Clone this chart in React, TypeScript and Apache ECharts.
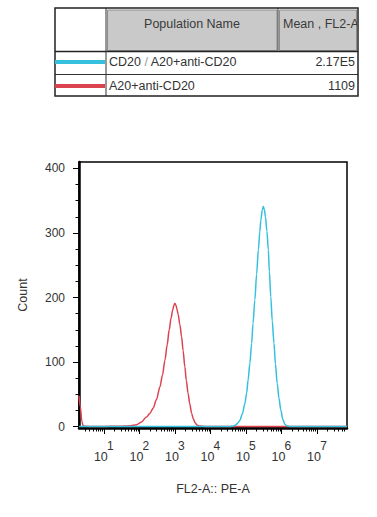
import React, { useEffect, useRef } from 'react';
import * as echarts from 'echarts';

// ---- data (x values are log10 of FL2-A intensity) ----
const redLog = [0.30, 0.34, 0.38, 0.42, 0.6, 1.0, 1.4, 1.6, 1.75, 1.92, 2.05, 2.2, 2.3, 2.39, 2.48, 2.58, 2.65, 2.72, 2.78, 2.84, 2.89, 2.94, 2.97, 3.0, 3.03, 3.06, 3.09, 3.14, 3.19, 3.23, 3.28, 3.32, 3.37, 3.42, 3.47, 3.52, 3.57, 3.62, 3.7, 3.85, 7.845];
const redCount = [48, 30, 8, 1, 0.5, 0.5, 0.7, 1, 1.5, 3, 7, 15, 21, 29, 42, 62, 80, 103, 126, 150, 168, 181, 188, 191, 188, 182, 174, 158, 139, 118, 93, 72, 52, 35, 21, 12, 6, 2.5, 1, 0.5, 0.5];
const cyanLog = [0.30, 4.55, 4.65, 4.72, 4.78, 4.83, 4.9, 4.97, 5.02, 5.06, 5.11, 5.16, 5.2, 5.25, 5.3, 5.35, 5.39, 5.42, 5.46, 5.49, 5.52, 5.55, 5.59, 5.63, 5.66, 5.7, 5.74, 5.79, 5.83, 5.88, 5.93, 5.98, 6.04, 6.1, 6.16, 6.25, 7.845];
const cyanCount = [0.5, 0.5, 1, 3, 6, 10, 20, 36, 52, 72, 98, 129, 160, 196, 236, 274, 302, 320, 336, 341, 336, 325, 303, 274, 240, 201, 164, 129, 97, 67, 44, 26, 11, 3.5, 1.2, 0.5, 0.5];

const xMajorExps = [1, 2, 3, 4, 5, 6, 7];
const xMinorFactors = [2, 3, 4, 5, 6, 7, 8, 9];
const yMajorTicks = [0, 100, 200, 300, 400];
const yMinorTicks = [25, 50, 75, 125, 150, 175, 225, 250, 275, 325, 350, 375];

const tableHeaders = ['Population Name', 'Mean , FL2-A'];
const populations = ['CD20 {g|/} A20+anti-CD20', 'A20+anti-CD20'];
const meanValues = ['2.17E5', '1109'];

const X_MIN = 0.3;
const X_MAX = 7.845;
const CYAN = '#35c0de';
const RED = '#dc4350';
const FONT = "'Liberation Sans', Arial, Helvetica, sans-serif";

const xMinorTicks: number[] = [];
for (let n = 0; n <= 7; n++) {
  for (const k of xMinorFactors) {
    const v = n + Math.log10(k);
    if (v > X_MIN + 0.01 && v < X_MAX - 0.01) xMinorTicks.push(v);
  }
}

export default function App() {
  const ref = useRef<HTMLDivElement>(null);
  useEffect(() => {
    if (!ref.current) return;
    const chart = echarts.init(ref.current, undefined, { renderer: 'svg' });
    const tickStyle = { color: '#000', width: 1 };
    const rowY = [62, 86];
    const graphic: any[] = [
      { type: 'rect', shape: { x: 107.5, y: 10, width: 169.5, height: 40.5 }, style: { fill: '#c9c9c9', stroke: '#8c8c8c', lineWidth: 1 } },
      { type: 'rect', shape: { x: 279.5, y: 10, width: 77, height: 40.5 }, style: { fill: '#c9c9c9', stroke: '#8c8c8c', lineWidth: 1 } },
      { type: 'text', x: 192, y: 24, style: { text: tableHeaders[0], fill: '#3a3a3a', fontSize: 12.5, fontFamily: FONT, textAlign: 'center', textVerticalAlign: 'middle', verticalAlign: 'middle' } },
      { type: 'text', x: 283, y: 24, style: { text: tableHeaders[1], fill: '#3a3a3a', fontSize: 12.5, fontFamily: FONT, textAlign: 'left', textVerticalAlign: 'middle', verticalAlign: 'middle' } },
      { type: 'rect', shape: { x: 357, y: 9, width: 20, height: 42 }, style: { fill: '#ffffff' } },
      { type: 'line', shape: { x1: 55, y1: 51.5, x2: 358, y2: 51.5 }, style: { stroke: '#222', lineWidth: 1.5 } },
      { type: 'line', shape: { x1: 55, y1: 74.5, x2: 358, y2: 74.5 }, style: { stroke: '#333', lineWidth: 1 } },
      { type: 'line', shape: { x1: 106, y1: 8, x2: 106, y2: 96 }, style: { stroke: '#333', lineWidth: 1 } },
      { type: 'line', shape: { x1: 278, y1: 8, x2: 278, y2: 51.5 }, style: { stroke: '#333', lineWidth: 1 } },
      { type: 'rect', shape: { x: 55, y: 8, width: 303, height: 88 }, style: { fill: 'none', stroke: '#222', lineWidth: 1.5 } },
      { type: 'line', shape: { x1: 55, y1: rowY[0], x2: 105, y2: rowY[0] }, style: { stroke: CYAN, lineWidth: 4 } },
      { type: 'line', shape: { x1: 55, y1: rowY[1], x2: 105, y2: rowY[1] }, style: { stroke: RED, lineWidth: 4 } },
    ];
    populations.forEach((p, i) => {
      graphic.push({
        type: 'text', x: 109, y: rowY[i],
        style: { text: p, fill: '#333', fontSize: 12.5, fontFamily: FONT, textAlign: 'left', textVerticalAlign: 'middle', verticalAlign: 'middle', rich: { g: { fill: '#9a9a9a', fontSize: 12.5, fontFamily: FONT } } },
      });
      graphic.push({
        type: 'text', x: 355, y: rowY[i],
        style: { text: meanValues[i], fill: '#333', fontSize: 12.5, fontFamily: FONT, textAlign: 'right', textVerticalAlign: 'middle', verticalAlign: 'middle' },
      });
    });

    chart.setOption({
      animation: false,
      backgroundColor: '#fff',
      grid: { left: 79, right: 30, top: 162, bottom: 89, show: true, borderColor: '#000', borderWidth: 1.5, backgroundColor: 'transparent' },
      xAxis: [
        {
          type: 'value', min: X_MIN, max: X_MAX, position: 'bottom',
          axisLine: { show: true, onZero: false, lineStyle: { color: '#000', width: 2.5 } },
          axisTick: { show: true, customValues: xMajorExps, length: 6, lineStyle: tickStyle },
          axisLabel: {
            customValues: xMajorExps, margin: 12,
            formatter: (v: number) => `{e|${Math.round(v)}}\n{b|10}`,
            rich: {
              e: { fontSize: 12, color: '#333', fontFamily: FONT, lineHeight: 11, padding: [0, 0, 0, 13] },
              b: { fontSize: 12.5, color: '#333', fontFamily: FONT, lineHeight: 11, padding: [0, 6, 0, 0] },
            },
          },
          splitLine: { show: false },
          name: 'FL2-A:: PE-A', nameLocation: 'middle', nameGap: 54,
          nameTextStyle: { fontSize: 12.5, color: '#333', fontFamily: FONT },
        },
        {
          type: 'value', min: X_MIN, max: X_MAX, position: 'bottom',
          axisLine: { show: false, onZero: false },
          axisTick: { show: true, customValues: xMinorTicks, length: 3.5, lineStyle: tickStyle },
          axisLabel: { show: false },
          splitLine: { show: false },
        },
      ],
      yAxis: [
        {
          type: 'value', min: -2, max: 410, position: 'left',
          axisLine: { show: true, onZero: false, lineStyle: { color: '#000', width: 2.5 } },
          axisTick: { show: true, customValues: yMajorTicks, length: 6, lineStyle: tickStyle },
          axisLabel: { customValues: yMajorTicks, margin: 14, fontSize: 12, color: '#333', fontFamily: FONT },
          splitLine: { show: false },
          name: 'Count', nameLocation: 'middle', nameGap: 50,
          nameTextStyle: { fontSize: 12.5, color: '#333', fontFamily: FONT },
        },
        {
          type: 'value', min: -2, max: 410, position: 'left',
          axisLine: { show: false, onZero: false },
          axisTick: { show: true, customValues: yMinorTicks, length: 3.5, lineStyle: tickStyle },
          axisLabel: { show: false },
          splitLine: { show: false },
        },
      ],
      series: [
        {
          type: 'line', xAxisIndex: 0, yAxisIndex: 0, showSymbol: false, smooth: 0.3, smoothMonotone: 'x',
          data: redLog.map((x, i) => [x, redCount[i]]),
          lineStyle: { color: RED, width: 1.5 }, itemStyle: { color: RED }, z: 3,
        },
        {
          type: 'line', xAxisIndex: 0, yAxisIndex: 0, showSymbol: false, smooth: 0.3, smoothMonotone: 'x',
          data: cyanLog.map((x, i) => [x, cyanCount[i]]),
          lineStyle: { color: CYAN, width: 1.5 }, itemStyle: { color: CYAN }, z: 4,
        },
      ],
      graphic,
    });
    return () => chart.dispose();
  }, []);
  return <div ref={ref} style={{ position: 'fixed', left: 0, top: 0, width: 377, height: 517 }} />;
}
